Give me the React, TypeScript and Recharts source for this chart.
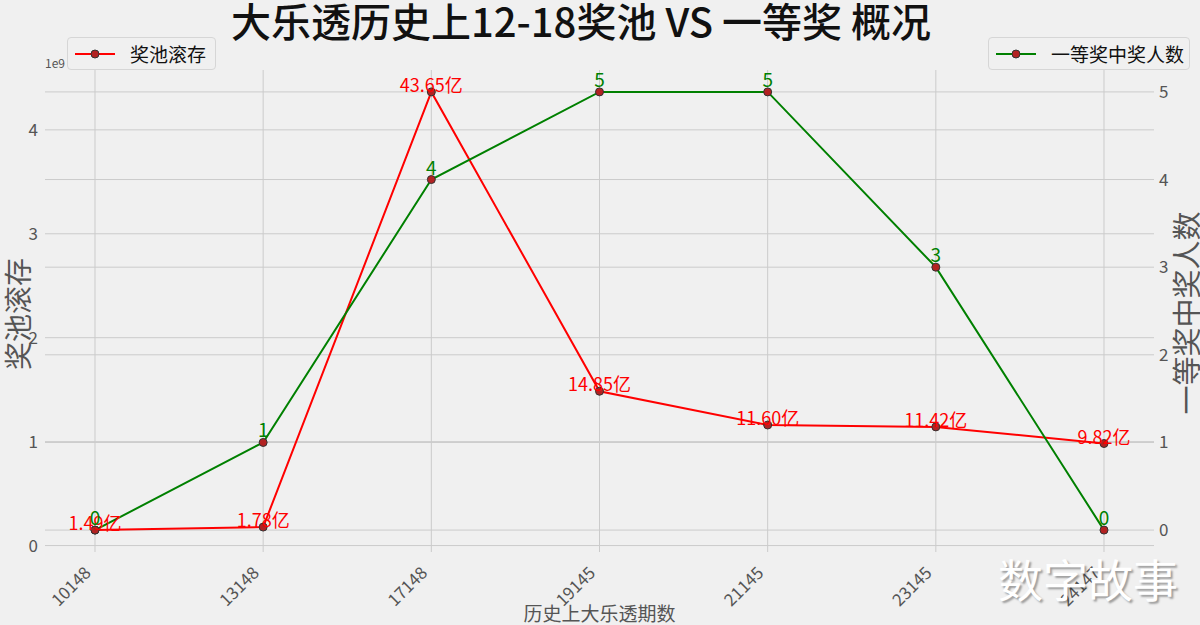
import { LineChart, Line, XAxis, YAxis, CartesianGrid, LabelList } from 'recharts';

// 期号
const issues = ['10148', '13148', '17148', '19145', '21145', '23145', '24147'];
// 奖池滚存 (元)
const poolYuan = [149000000, 178000000, 4365000000, 1485000000, 1160000000, 1142000000, 982000000];
// 一等奖中奖人数
const winners = [0, 1, 4, 5, 5, 3, 0];
const poolTicks = [0, 1e9, 2e9, 3e9, 4e9];
const winnerTicks = [0, 1, 2, 3, 4, 5];

const data = issues.map((issue, i) => ({ issue, pool: poolYuan[i], winners: winners[i] }));

// matplotlib style 5% margins
const withMargin = (vals: number[]): [number, number] => {
  const lo = Math.min(...vals);
  const hi = Math.max(...vals);
  const pad = (hi - lo) * 0.05;
  return [lo - pad, hi + pad];
};

const FONT = '"Noto Sans CJK SC", "Noto Sans", sans-serif';
const GRID = '#cbcbcb';
const TICK = '#555555';

const XTick = ({ x, y, payload }: any) => (
  <text
    x={x - 3}
    y={y + 22}
    transform={`rotate(-45 ${x - 3} ${y + 22})`}
    textAnchor="end"
    fill={TICK}
    fontSize={17}
    fontFamily={FONT}
  >
    {payload.value}
  </text>
);

const PoolLabel = ({ x, y, value }: any) => (
  <text x={x} y={y} textAnchor="middle" fill="#ff0000" fontSize={18} fontFamily={FONT}>
    {`${(value / 1e8).toFixed(2)}亿`}
  </text>
);

const WinnerLabel = ({ x, y, value }: any) => (
  <text x={x} y={y - 5} textAnchor="middle" fill="#008000" fontSize={19} fontFamily={FONT}>
    {value}
  </text>
);

const dotStyle = { r: 4, fill: '#b22222', stroke: '#333', strokeWidth: 1 };

const LegendBox = ({ left, width, color, text }: { left: number; width: number; color: string; text: string }) => (
  <div
    style={{
      position: 'absolute',
      left,
      top: 37,
      width,
      height: 33,
      boxSizing: 'border-box',
      border: '1px solid #d6d6d6',
      borderRadius: 4,
      background: '#f0f0f0',
      display: 'flex',
      alignItems: 'center',
      fontFamily: FONT,
      fontSize: 19,
      color: '#111',
    }}
  >
    <svg width={62} height={20} style={{ flex: 'none' }}>
      <line x1={7} x2={47} y1={10} y2={10} stroke={color} strokeWidth={2} />
      <circle cx={27} cy={10} r={4} fill="#b22222" stroke="#333" strokeWidth={1} />
    </svg>
    <span>{text}</span>
  </div>
);

export default function App() {
  return (
    <div style={{ position: 'fixed', left: 0, top: 0, width: 1200, height: 625, background: '#f0f0f0', overflow: 'hidden' }}>
      <LineChart width={1200} height={625} data={data} margin={{ top: 70, right: 0, bottom: 3, left: 0 }}>
        <CartesianGrid yAxisId="pool" stroke={GRID} strokeWidth={1} vertical={false} syncWithTicks />
        <CartesianGrid yAxisId="win" stroke={GRID} strokeWidth={1} syncWithTicks />
        <XAxis
          dataKey="issue"
          height={70}
          padding={{ left: 50, right: 50 }}
          axisLine={false}
          tickLine={false}
          tickSize={0}
          tickMargin={0}
          interval={0}
          tick={<XTick />}
          label={{
            content: ({ viewBox }: any) => (
              <text
                x={viewBox.x + viewBox.width / 2}
                y={viewBox.y + viewBox.height - 1}
                textAnchor="middle"
                fill={TICK}
                fontSize={19}
                fontFamily={FONT}
              >
                历史上大乐透期数
              </text>
            ),
          }}
        />
        <YAxis
          yAxisId="pool"
          orientation="left"
          width={45}
          domain={withMargin(poolYuan)}
          ticks={poolTicks}
          axisLine={false}
          tickLine={false}
          tickSize={0}
          tickMargin={7}
          allowDataOverflow
          tickFormatter={(v: number) => String(Math.round(v / 1e9))}
          tick={{ fill: TICK, fontSize: 17, fontFamily: FONT }}
          label={{
            content: ({ viewBox }: any) => {
              const cx = viewBox.x + 17;
              const cy = viewBox.y + viewBox.height / 2 + 3;
              return (
                <text
                  x={cx}
                  y={cy}
                  transform={`rotate(-90 ${cx} ${cy})`}
                  textAnchor="middle"
                  dominantBaseline="central"
                  fill={TICK}
                  fontSize={28}
                  fontFamily={FONT}
                >
                  奖池滚存
                </text>
              );
            },
          }}
        />
        <YAxis
          yAxisId="win"
          orientation="right"
          width={46}
          domain={withMargin(winners)}
          ticks={winnerTicks}
          axisLine={false}
          tickLine={false}
          tickSize={0}
          tickMargin={5}
          allowDataOverflow
          tick={{ fill: TICK, fontSize: 17, fontFamily: FONT }}
          label={{
            content: ({ viewBox }: any) => {
              const cx = viewBox.x + 31;
              const cy = viewBox.y + viewBox.height / 2 + 2;
              return (
                <text
                  x={cx}
                  y={cy}
                  transform={`rotate(-90 ${cx} ${cy})`}
                  textAnchor="middle"
                  dominantBaseline="central"
                  fill={TICK}
                  fontSize={29}
                  fontFamily={FONT}
                >
                  一等奖中奖人数
                </text>
              );
            },
          }}
        />
        <Line
          yAxisId="pool"
          dataKey="pool"
          type="linear"
          stroke="#ff0000"
          strokeWidth={2}
          dot={dotStyle}
          activeDot={false}
          isAnimationActive={false}
        >
          <LabelList dataKey="pool" content={<PoolLabel />} />
        </Line>
        <Line
          yAxisId="win"
          dataKey="winners"
          type="linear"
          stroke="#008000"
          strokeWidth={2}
          dot={dotStyle}
          activeDot={false}
          isAnimationActive={false}
        >
          <LabelList dataKey="winners" content={<WinnerLabel />} />
        </Line>
      </LineChart>

      <div
        style={{
          position: 'absolute',
          left: 0,
          width: 1162,
          top: 0,
          height: 42,
          lineHeight: '40px',
          textAlign: 'center',
          fontFamily: FONT,
          fontSize: 40,
          fontWeight: 500,
          color: '#111',
          whiteSpace: 'nowrap',
        }}
      >
        大乐透历史上12-18奖池 VS 一等奖 概况
      </div>

      <LegendBox left={67} width={149} color="#ff0000" text="奖池滚存" />
      <LegendBox left={988} width={202} color="#008000" text="一等奖中奖人数" />

      <div style={{ position: 'absolute', left: 45, top: 54, fontFamily: FONT, fontSize: 12, color: TICK }}>1e9</div>

      <div
        style={{
          position: 'absolute',
          left: 998,
          top: 546,
          fontFamily: FONT,
          fontSize: 45,
          color: '#ffffff',
          textShadow: '2px 2px 2px rgba(0,0,0,0.35)',
          whiteSpace: 'nowrap',
        }}
      >
        数字故事
      </div>
    </div>
  );
}
